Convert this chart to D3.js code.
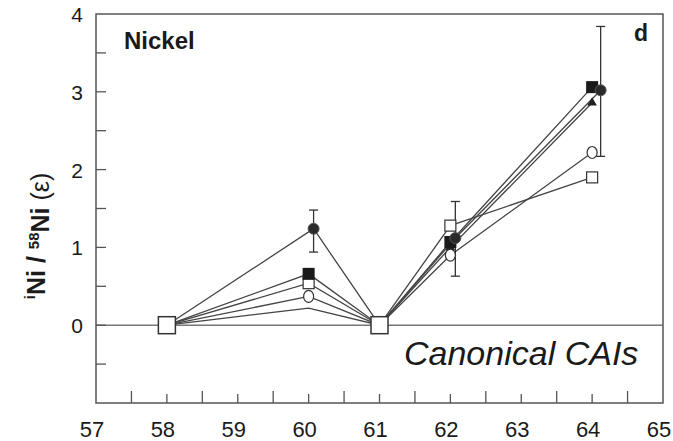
<!DOCTYPE html>
<html>
<head>
<meta charset="utf-8">
<script src="https://cdn.jsdelivr.net/npm/d3@7"></script>
<style>
  body { margin: 0; background: #fff; }
  svg { display: block; }
  text { font-family: "Liberation Sans", Arial, sans-serif; fill: #1a1a1a; }
</style>
</head>
<body>
<div id="chart"></div>
<script>
/* ------------
Nickel isotope anomalies - canonical CAIs (panel d)
------------ */

// isotope masses (x) and tick values
var xTicksMajor = [57.5, 58.5, 59.5, 60.5, 61.5, 62.5, 63.5, 64.5];
var xTicksMinor = [58, 59, 60, 61, 62, 63, 64];
var xLabels = [57, 58, 59, 60, 61, 62, 63, 64, 65];
var yTicks = [-0.5, 0, 0.5, 1, 1.5, 2, 2.5, 3, 3.5];
var yLabels = [0, 1, 2, 3, 4];

// normalising isotopes (58, 61) sit at zero
var refMass = [58, 61];

// each sample: x positions and epsilon values
var circleMass = [58, 60.07, 61, 62.07, 64.12];
var circleVals = [0, 1.24, 0, 1.12, 3.02];
var circleLow = [null, 0.94, null, 0.63, 2.17];
var circleHigh = [null, 1.48, null, 1.59, 3.84];

var squareMass = [58, 60, 61, 62, 64];
var squareVals = [0, 0.66, 0, 1.07, 3.06];

var openSqMass = [58, 60, 61, 62, 64];
var openSqVals = [0, 0.54, 0, 1.28, 1.90];

var openCircMass = [58, 60, 61, 62, 64];
var openCircVals = [0, 0.37, 0, 0.90, 2.22];

var triMass = [58, 60, 61, 62, 64];
var triVals = [0, 0.22, 0, 1.00, 2.86];

var W = 673, H = 441;
var margin = {left: 96, right: 10, top: 14, bottom: 38};

var svg = d3.select("#chart").append("svg")
    .attr("width", W)
    .attr("height", H);

var x = d3.scaleLinear().domain([57, 65]).range([margin.left, W - margin.right]);
var y = d3.scaleLinear().domain([-1, 4]).range([H - margin.bottom, margin.top]);

var ink = "#444";

// zero line
svg.append("line")
    .attr("x1", x(57)).attr("x2", x(65))
    .attr("y1", y(0)).attr("y2", y(0))
    .attr("stroke", "#777").attr("stroke-width", 1.5);

// frame
svg.append("rect")
    .attr("x", x(57)).attr("y", y(4))
    .attr("width", x(65) - x(57)).attr("height", y(-1) - y(4))
    .attr("fill", "none").attr("stroke", "#555").attr("stroke-width", 1.5);

// bottom axis ticks point inward; half masses get the long tick
var bottom = svg.append("g");
bottom.selectAll("line.maj").data(xTicksMajor).enter().append("line")
    .attr("class", "maj")
    .attr("x1", function (d) { return x(d); }).attr("x2", function (d) { return x(d); })
    .attr("y1", y(-1)).attr("y2", y(-1) - 12)
    .attr("stroke", "#555").attr("stroke-width", 1.3);
bottom.selectAll("line.min").data(xTicksMinor).enter().append("line")
    .attr("class", "min")
    .attr("x1", function (d) { return x(d); }).attr("x2", function (d) { return x(d); })
    .attr("y1", y(-1)).attr("y2", y(-1) - 9)
    .attr("stroke", "#555").attr("stroke-width", 1.3);
bottom.selectAll("text").data(xLabels).enter().append("text")
    .attr("x", function (d) { return x(d) - 4; })
    .attr("y", 437)
    .attr("text-anchor", "middle")
    .style("font-size", "22px")
    .text(function (d) { return d; });

// left axis
var left = svg.append("g");
left.selectAll("line").data(yTicks).enter().append("line")
    .attr("x1", x(57)).attr("x2", x(57) + 10)
    .attr("y1", function (d) { return y(d); }).attr("y2", function (d) { return y(d); })
    .attr("stroke", "#555").attr("stroke-width", 1.3);
left.selectAll("text").data(yLabels).enter().append("text")
    .attr("x", 83)
    .attr("y", function (d) { return y(d) + 8; })
    .attr("text-anchor", "end")
    .style("font-size", "21px")
    .text(function (d) { return d; });

// axis title: iNi / 58Ni (e)
var title = svg.append("text")
    .attr("transform", "translate(41," + 236 + ") rotate(-90)")
    .attr("text-anchor", "middle")
    .style("font-size", "25px")
    .style("font-weight", "bold");
title.append("tspan").attr("dy", "-0.4em").style("font-size", "15px").text("i");
title.append("tspan").attr("dy", "0.4em").text("Ni / ");
title.append("tspan").attr("dy", "-0.4em").style("font-size", "15px").text("58");
title.append("tspan").attr("dy", "0.4em").text("Ni ");
title.append("tspan").style("font-weight", "normal").text("(ε)");

// panel texts
svg.append("text").attr("x", 124).attr("y", 49)
    .style("font-size", "24px").style("font-weight", "bold").text("Nickel");
svg.append("text").attr("x", 634).attr("y", 41)
    .style("font-size", "23px").style("font-weight", "bold").text("d");
svg.append("text").attr("x", 404).attr("y", 365)
    .style("font-size", "34px").style("font-style", "italic").text("Canonical CAIs");

// build point lists
function pts(ms, vs) {
    return ms.map(function (m, i) { return {m: m, v: vs[i]}; });
}
var series = [
    {name: "tri", data: pts(triMass, triVals)},
    {name: "openCirc", data: pts(openCircMass, openCircVals)},
    {name: "openSq", data: pts(openSqMass, openSqVals)},
    {name: "square", data: pts(squareMass, squareVals)},
    {name: "circle", data: pts(circleMass, circleVals)}
];

var line = d3.line()
    .x(function (d) { return x(d.m); })
    .y(function (d) { return y(d.v); });

svg.append("g").selectAll("path").data(series).enter().append("path")
    .attr("d", function (s) { return line(s.data); })
    .attr("fill", "none")
    .attr("stroke", ink)
    .attr("stroke-width", 1.3);

// error bars on the filled circles
var errs = circleMass.map(function (m, i) {
    return {m: m, lo: circleLow[i], hi: circleHigh[i]};
}).filter(function (d) { return d.lo !== null; });
var eb = svg.append("g").attr("stroke", "#333").attr("stroke-width", 1.3);
errs.forEach(function (d) {
    eb.append("line")
        .attr("x1", x(d.m)).attr("x2", x(d.m))
        .attr("y1", y(d.lo)).attr("y2", y(d.hi));
    eb.append("line")
        .attr("x1", x(d.m) - 4.5).attr("x2", x(d.m) + 4.5)
        .attr("y1", y(d.lo)).attr("y2", y(d.lo));
    eb.append("line")
        .attr("x1", x(d.m) - 4.5).attr("x2", x(d.m) + 4.5)
        .attr("y1", y(d.hi)).attr("y2", y(d.hi));
});

// markers (skip the reference isotopes)
function notRef(d) { return refMass.indexOf(d.m) < 0; }
var marks = svg.append("g");

var triPts = pts(triMass, triVals).filter(notRef).filter(function (d) { return d.m > 61; });
marks.selectAll("path.tri").data(triPts).enter().append("path")
    .attr("class", "tri")
    .attr("transform", function (d) { return "translate(" + x(d.m) + "," + y(d.v) + ")"; })
    .attr("d", d3.symbol(d3.symbolTriangle, 40))
    .attr("fill", "#222");

marks.selectAll("ellipse").data(pts(openCircMass, openCircVals).filter(notRef)).enter().append("ellipse")
    .attr("cx", function (d) { return x(d.m); })
    .attr("cy", function (d) { return y(d.v); })
    .attr("rx", 5).attr("ry", 6)
    .attr("fill", "#fff").attr("stroke", "#333").attr("stroke-width", 1.2);

marks.selectAll("rect.osq").data(pts(openSqMass, openSqVals).filter(notRef)).enter().append("rect")
    .attr("class", "osq")
    .attr("x", function (d) { return x(d.m) - 5.5; })
    .attr("y", function (d) { return y(d.v) - 5.5; })
    .attr("width", 11).attr("height", 11)
    .attr("fill", "#fff").attr("stroke", "#333").attr("stroke-width", 1.2);

marks.selectAll("rect.fsq").data(pts(squareMass, squareVals).filter(notRef)).enter().append("rect")
    .attr("class", "fsq")
    .attr("x", function (d) { return x(d.m) - 6; })
    .attr("y", function (d) { return y(d.v) - 6; })
    .attr("width", 12).attr("height", 12)
    .attr("fill", "#1a1a1a");

marks.selectAll("circle").data(pts(circleMass, circleVals).filter(notRef)).enter().append("circle")
    .attr("cx", function (d) { return x(d.m); })
    .attr("cy", function (d) { return y(d.v); })
    .attr("r", 5.5)
    .attr("fill", "#2a2a2a").attr("stroke", "#555").attr("stroke-width", 1);

// big open squares at the normalising isotopes
marks.selectAll("rect.ref").data(refMass).enter().append("rect")
    .attr("class", "ref")
    .attr("x", function (d) { return x(d) - 8.5; })
    .attr("y", y(0) - 8.5)
    .attr("width", 17).attr("height", 17)
    .attr("fill", "#fff").attr("stroke", "#333").attr("stroke-width", 1.5);
</script>
</body>
</html>
